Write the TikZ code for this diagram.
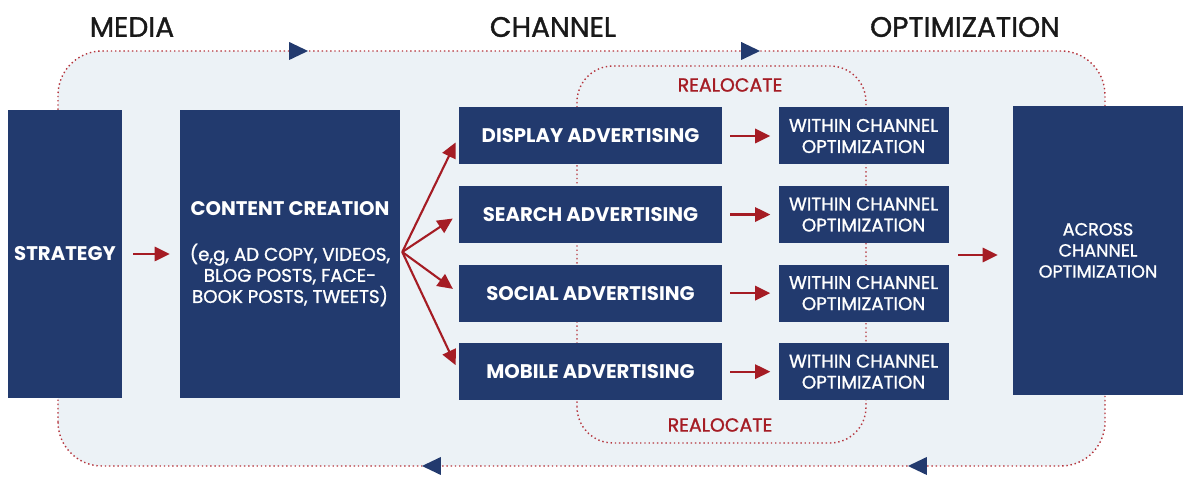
\documentclass[tikz,border=0pt]{standalone}
\usepackage{fontspec}
\setmainfont{Poppins}
\newfontfamily\medfont[FakeBold=1.2]{Poppins}
\usetikzlibrary{arrows.meta,positioning}

\definecolor{navy}{HTML}{223A6E}
\definecolor{darkred}{HTML}{A51C24}
\definecolor{paleblue}{HTML}{ECF2F6}
\definecolor{dotred}{HTML}{B5343C}

\tikzset{
  box/.style={fill=navy, text=white, font=\bfseries\fontsize{14}{15}\selectfont, align=center, inner sep=0pt},
  tallbox/.style={box, minimum width=#1, minimum height=7.2cm},
  adbox/.style={box, minimum width=6.575cm, minimum height=1.425cm},
  optbox/.style={box, minimum width=4.25cm, minimum height=1.425cm, font=\medfont\fontsize{13}{15}\selectfont},
  redarrow/.style={draw=darkred, line width=1.5pt, -{Triangle[length=0.38cm,width=0.36cm]}},
  loopline/.style={draw=dotred, line width=1pt, dotted},
  title/.style={text=black!90, font=\medfont\fontsize{20}{22}\selectfont},
  realloc/.style={text=darkred, font=\medfont\fontsize{13.5}{15}\selectfont}
}
\newcommand{\paren}{\medfont\mdseries\fontsize{13}{15}\selectfont}

\begin{document}
\begin{tikzpicture}

	\useasboundingbox (0,0) rectangle (30,12.25);

	% loops
	\draw[loopline, fill=paleblue, rounded corners=1.1cm] (1.45,0.6) rectangle (27.625,10.975);
	\draw[loopline, rounded corners=0.9cm] (14.425,1.175) rectangle (21.65,10.6);

	\foreach \x in {7.45,18.75}
		\fill[navy] (\x-0.22,11.2) -- (\x+0.25,10.975) -- (\x-0.22,10.75) -- cycle;
	\foreach \x in {10.8,22.95}
		\fill[navy] (\x+0.22,0.825) -- (\x-0.25,0.6) -- (\x+0.22,0.375) -- cycle;

	% titles
	\node[title] (media) at (3.3,11.575) {MEDIA};
	\node[title] (channel) at (13.825,11.575) {CHANNEL};
	\node[title] (optim) at (24.125,11.575) {OPTIMIZATION};

	\node[realloc] (reatop) at (18.25,10.125) {REALOCATE};
	\node[realloc] (reabot) at (18.0,1.625) {REALOCATE};

	% boxes
	\node[tallbox=2.85cm] (strategy) at (1.625,5.9) {STRATEGY};
	\node[tallbox=5.5cm] (content) at (7.25,5.9) {CONTENT CREATION\\[0.6cm]
		\paren (e,g, AD COPY, VIDEOS,\\
		\paren BLOG POSTS, FACE-\\
		\paren BOOK POSTS, TWEETS)};

	\node[adbox] (disp) at (14.7625,8.85) {DISPLAY ADVERTISING};
	\node[adbox, below=0.525cm of disp] (search) {SEARCH ADVERTISING};
	\node[adbox, below=0.525cm of search] (social) {SOCIAL ADVERTISING};
	\node[adbox, below=0.525cm of social] (mobile) {MOBILE ADVERTISING};

	\foreach \n in {disp,search,social,mobile}
		\node[optbox, right=1.4cm of \n] (w\n) {WITHIN CHANNEL\\OPTIMIZATION};

	\node[tallbox=4.25cm, minimum height=7.225cm, font=\medfont\fontsize{12.5}{15}\selectfont] (across) at (27.45,5.99) {ACROSS\\CHANNEL\\OPTIMIZATION};

	% arrows
	\draw[redarrow, shorten <=0.275cm, shorten >=0.25cm] (strategy) -- (content);

	\coordinate (fan) at ([xshift=0.05cm,yshift=0.05cm]content.east);
	\foreach \n in {disp,search,social,mobile}
		\draw[redarrow, shorten >=0.18cm] (fan) -- (\n.west);

	\foreach \n in {disp,search,social,mobile}
		\draw[redarrow, shorten <=0.2cm, shorten >=0.2cm] (\n) -- (w\n);

	\coordinate (wc) at (23.95,5.875);
	\draw[redarrow, shorten >=0.375cm] (wc) -- (wc -| across.west);

\end{tikzpicture}
\end{document}
